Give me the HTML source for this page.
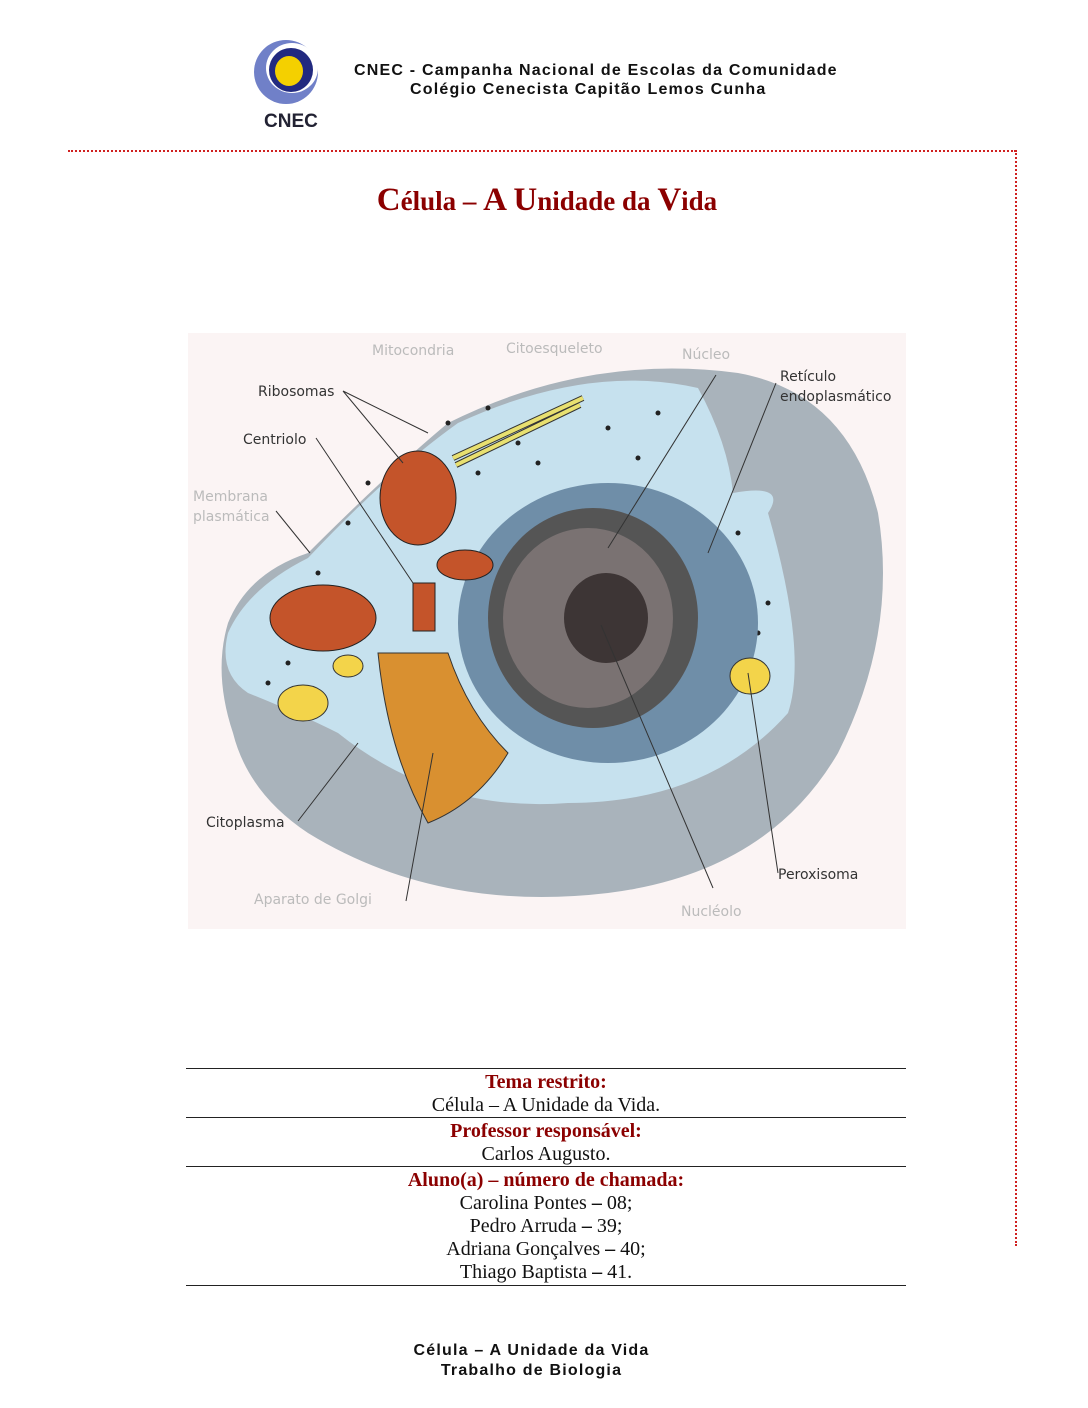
<!DOCTYPE html>
<html><head><meta charset="utf-8"><style>
body{margin:0;width:1088px;height:1408px;background:#fff;position:relative;overflow:hidden;font-family:"Liberation Serif",serif}
.a{position:absolute}
.hs{font-family:"Liberation Sans",sans-serif;font-weight:bold;font-size:16px;letter-spacing:1.2px;color:#111;white-space:nowrap}
.t{left:186px;width:720px;text-align:center;font-size:20px;line-height:23px;color:#111}
.r{color:#8b0000;font-weight:bold}
.ln{left:186px;width:720px;height:0;border-top:1.3px solid #222}
.lb{font-family:"DejaVu Sans",sans-serif;font-size:14px;fill:#333}
.lg{font-family:"DejaVu Sans",sans-serif;font-size:14px;fill:#bbb}
</style></head><body>
<svg class="a" style="left:248px;top:32px" width="80" height="100">
<ellipse cx="38" cy="40" rx="32" ry="32" fill="#7080c8"/>
<ellipse cx="44" cy="36" rx="26" ry="25" fill="#fff"/>
<ellipse cx="43" cy="38" rx="22" ry="22" fill="#222a80"/>
<ellipse cx="41" cy="39" rx="14" ry="15" fill="#f4d000"/>
<text x="16" y="95" font-family="Liberation Sans" font-weight="bold" font-size="19" fill="#223">CNEC</text>
</svg>
<div class="a hs" style="left:354px;top:62px">CNEC - Campanha Nacional de Escolas da Comunidade</div>
<div class="a hs" style="left:410px;top:81px">Colégio Cenecista Capitão Lemos Cunha</div>
<div class="a" style="left:68px;top:150px;width:948px;border-top:2px dotted #d02020"></div>
<div class="a" style="left:1015px;top:150px;height:1096px;border-left:2px dotted #d02020"></div>
<div class="a" style="left:0;width:1094px;top:182px;text-align:center;color:#8b0000;font-weight:bold;font-size:27px"><span style="font-size:33px">C</span>élula – <span style="font-size:33px">A U</span>nidade da <span style="font-size:33px">V</span>ida</div>
<svg class="a" style="left:188px;top:333px" width="718" height="596">
<rect width="718" height="596" fill="#fbf4f4"/>
<path d="M40 290 Q60 240 120 220 Q200 140 260 90 Q400 20 550 40 Q660 60 690 180 Q710 300 650 420 Q580 540 420 560 Q250 580 120 500 Q60 460 45 400 Q25 340 40 290Z" fill="#a9b3bb"/>
<path d="M40 300 Q60 255 120 225 Q200 140 270 90 Q400 30 510 55 Q540 110 545 160 Q600 150 580 180 Q620 320 600 380 Q520 470 380 470 Q250 480 150 400 Q110 380 60 360 Q30 340 40 300Z" fill="#c6e1ee"/>
<g fill="#222">
<circle cx="260" cy="90" r="2.5"/><circle cx="300" cy="75" r="2.5"/><circle cx="330" cy="110" r="2.5"/><circle cx="290" cy="140" r="2.5"/><circle cx="350" cy="130" r="2.5"/><circle cx="420" cy="95" r="2.5"/><circle cx="450" cy="125" r="2.5"/><circle cx="470" cy="80" r="2.5"/><circle cx="380" cy="160" r="2.5"/><circle cx="180" cy="150" r="2.5"/><circle cx="160" cy="190" r="2.5"/><circle cx="130" cy="240" r="2.5"/><circle cx="560" cy="250" r="2.5"/><circle cx="570" cy="300" r="2.5"/><circle cx="550" cy="200" r="2.5"/><circle cx="100" cy="330" r="2.5"/><circle cx="80" cy="350" r="2.5"/><circle cx="580" cy="270" r="2.5"/>
</g>
<path d="M265 125 L395 65 M268 132 L392 72" stroke="#333" stroke-width="6"/><path d="M265 125 L395 65 M268 132 L392 72" stroke="#e8e070" stroke-width="4"/>
<ellipse cx="420" cy="290" rx="150" ry="140" fill="#6f8ea8"/>
<ellipse cx="405" cy="285" rx="105" ry="110" fill="#555"/>
<ellipse cx="400" cy="285" rx="85" ry="90" fill="#7a7272"/>
<ellipse cx="418" cy="285" rx="42" ry="45" fill="#3d3535"/>
<ellipse cx="230" cy="165" rx="38" ry="47" fill="#c4542a" stroke="#222"/>
<ellipse cx="135" cy="285" rx="53" ry="33" fill="#c4542a" stroke="#222"/>
<path d="M190 320 Q200 420 240 490 Q290 470 320 420 Q280 380 260 320Z" fill="#d99030" stroke="#333"/>
<rect x="225" y="250" width="22" height="48" fill="#c4542a" stroke="#222"/>
<ellipse cx="277" cy="232" rx="28" ry="15" fill="#c4542a" stroke="#222"/>
<ellipse cx="115" cy="370" rx="25" ry="18" fill="#f3d44a" stroke="#333"/>
<ellipse cx="160" cy="333" rx="15" ry="11" fill="#f3d44a" stroke="#333"/>
<ellipse cx="562" cy="343" rx="20" ry="18" fill="#f3d44a" stroke="#333"/>
<g stroke="#333" fill="none" stroke-width="1">
<path d="M155 58 L240 100 M155 58 L215 130 M128 105 L225 250 M88 178 L122 220 M110 488 L170 410 M528 42 L420 215 M588 50 L520 220 M560 340 L590 540 M413 292 L525 555 M218 568 L245 420"/>
</g>
<text class="lb" x="70" y="63">Ribosomas</text>
<text class="lb" x="55" y="111">Centriolo</text>
<text class="lg" x="5" y="168">Membrana</text>
<text class="lg" x="5" y="188">plasmática</text>
<text class="lg" x="184" y="22">Mitocondria</text>
<text class="lg" x="318" y="20">Citoesqueleto</text>
<text class="lg" x="494" y="26">Núcleo</text>
<text class="lb" x="592" y="48">Retículo</text>
<text class="lb" x="592" y="68">endoplasmático</text>
<text class="lb" x="18" y="494">Citoplasma</text>
<text class="lb" x="590" y="546">Peroxisoma</text>
<text class="lg" x="66" y="571">Aparato de Golgi</text>
<text class="lg" x="493" y="583">Nucléolo</text>
</svg>
<div class="a ln" style="top:1068px"></div>
<div class="a ln" style="top:1117px"></div>
<div class="a ln" style="top:1166px"></div>
<div class="a ln" style="top:1285px"></div>
<div class="a t" style="top:1071px"><span class="r">Tema restrito:</span><br>Célula – A Unidade da Vida.</div>
<div class="a t" style="top:1120px"><span class="r">Professor responsável:</span><br>Carlos Augusto.</div>
<div class="a t" style="top:1169px"><span class="r">Aluno(a) – número de chamada:</span><br>Carolina Pontes <b>–</b> 08;<br>Pedro Arruda <b>–</b> 39;<br>Adriana Gonçalves <b>–</b> 40;<br>Thiago Baptista <b>–</b> 41.</div>
<div class="a hs" style="left:0;width:1063px;text-align:center;top:1341px;line-height:20px">Célula – A Unidade da Vida<br>Trabalho de Biologia</div>
</body></html>
